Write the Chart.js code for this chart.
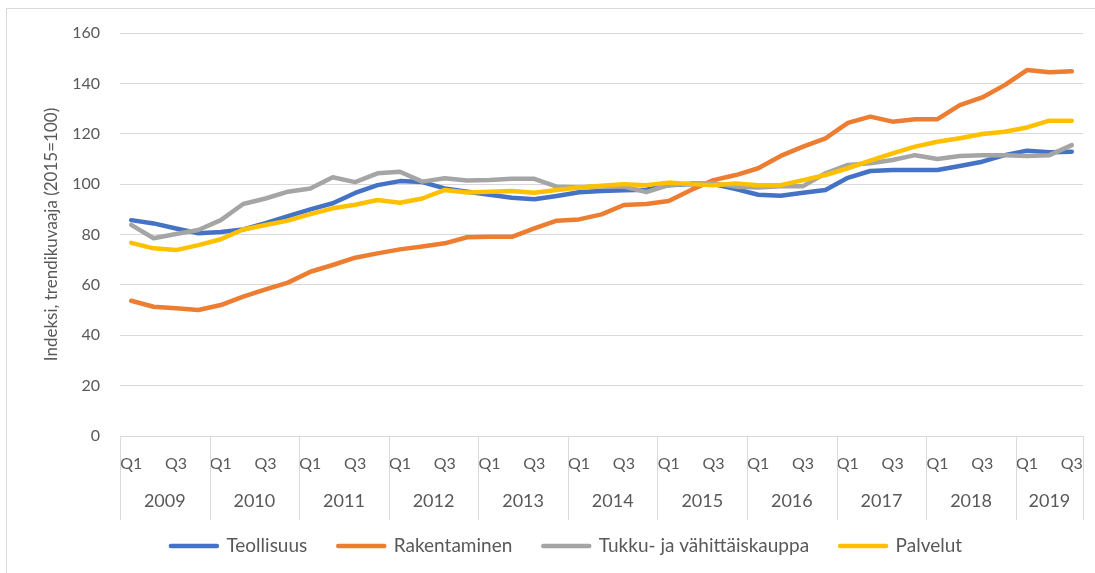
<!DOCTYPE html>
<html>
<head>
<meta charset="utf-8">
<script src="https://cdn.jsdelivr.net/npm/chart.js@4.4.1/dist/chart.umd.min.js"></script>
<style>
  html, body { margin: 0; padding: 0; background: #fff; overflow: hidden; }
  #frame { position: absolute; left: 6px; top: 8px; width: 1200px; height: 700px; border: 1px solid #d9d9d9; }
  #wrap { position: absolute; left: 0; top: 0; width: 1095px; height: 573px; }
</style>
</head>
<body>
<div id="frame"></div>
<div id="wrap"><canvas id="chart"></canvas></div>
<script>
const years = ['2009', '2010', '2011', '2012', '2013', '2014', '2015', '2016', '2017', '2018', '2019'];
const quarters = ['Q1', 'Q2', 'Q3', 'Q4'];
const quartersInLastYear = 3;

const teollisuus = [85.7, 84.4, 82.4, 80.5, 81.0, 82.0, 84.5, 87.3, 90.0, 92.4, 96.5,
    99.6, 101.2, 100.8, 98.3, 97.0, 95.8, 94.6, 94.0, 95.3, 96.8, 97.3, 97.6, 97.8,
    99.6, 100.0, 100.0, 98.0, 95.8, 95.4, 96.6, 97.7, 102.5, 105.2, 105.6, 105.6,
    105.6, 107.2, 108.9, 111.5, 113.3, 112.7, 112.9];
const rakentaminen = [53.7, 51.3, 50.7, 50.0, 52.0, 55.3, 58.2, 60.9, 65.2, 67.9, 70.8,
    72.5, 74.1, 75.2, 76.5, 78.9, 79.1, 79.1, 82.4, 85.5, 86.0, 88.0, 91.7, 92.1,
    93.3, 97.7, 101.6, 103.6, 106.3, 111.2, 114.9, 118.2, 124.3, 126.8, 124.8, 125.8,
    125.8, 131.4, 134.4, 139.3, 145.3, 144.4, 144.8];
const tukkuJaVahittais = [83.8, 78.5, 80.2, 81.8, 85.7, 92.1, 94.3, 97.0, 98.3, 102.7, 100.8,
    104.3, 104.9, 101.0, 102.3, 101.4, 101.6, 102.1, 102.1, 99.0, 98.7, 99.2, 99.0, 96.8,
    99.6, 100.3, 100.3, 99.0, 98.7, 99.2, 99.2, 104.3, 107.6, 108.3, 109.6, 111.5,
    110.0, 111.2, 111.5, 111.5, 111.2, 111.5, 115.5];
const palvelut = [76.7, 74.5, 73.8, 75.8, 78.1, 82.0, 83.8, 85.5, 88.1, 90.4, 91.8,
    93.7, 92.6, 94.3, 97.7, 96.7, 97.0, 97.3, 96.6, 97.7, 98.7, 99.4, 100.0, 99.6,
    100.6, 100.0, 99.6, 100.3, 99.6, 99.6, 101.6, 103.6, 106.3, 109.3, 112.2, 114.9,
    116.8, 118.2, 119.9, 120.8, 122.5, 125.2, 125.2];

// quarter labels and the year each quarter belongs to
const quarterLabels = [];
const quarterYears = [];
years.forEach((y, i) => {
    const n = i === years.length - 1 ? quartersInLastYear : quarters.length;
    for (let q = 0; q < n; q++) {
        quarterLabels.push(quarters[q]);
        quarterYears.push(y);
    }
});

const textColor = '#595959';
const gridColor = '#d9d9d9';
Chart.defaults.font.family = 'Lato';
Chart.defaults.font.size = 16;
Chart.defaults.color = textColor;

// second level of the category axis: year names and separators
const yearAxis = {
    id: 'yearAxis',
    afterDraw(chart) {
        const x = chart.scales.x;
        const ctx = chart.ctx;
        const half = (x.getPixelForValue(1) - x.getPixelForValue(0)) / 2;
        const top = x.top;
        ctx.save();
        ctx.strokeStyle = gridColor;
        ctx.lineWidth = 1;
        ctx.fillStyle = textColor;
        ctx.font = '18px Lato';
        ctx.textAlign = 'center';
        ctx.textBaseline = 'middle';
        const sep = (px) => {
            const p = Math.round(px) + 0.5;
            ctx.beginPath();
            ctx.moveTo(p, top);
            ctx.lineTo(p, top + 84);
            ctx.stroke();
        };
        years.forEach(year => {
            const first = quarterYears.indexOf(year);
            const last = quarterYears.lastIndexOf(year);
            sep(x.getPixelForValue(first) - half);
            const mid = (x.getPixelForValue(first) + x.getPixelForValue(last)) / 2;
            ctx.fillText(year, mid, top + 65);
        });
        sep(x.getPixelForValue(quarterLabels.length - 1) + half);
        ctx.restore();
    }
};

function series(label, data, color, order) {
    return {
        label: label,
        data: data,
        borderColor: color,
        backgroundColor: color,
        borderWidth: 4.5,
        borderJoinStyle: 'round',
        borderCapStyle: 'round',
        pointRadius: 0,
        tension: 0,
        order: order
    };
}

new Chart(document.getElementById('chart'), {
    type: 'line',
    data: {
        labels: quarterLabels,
        datasets: [
            series('Teollisuus', teollisuus, '#4472C4', 4),
            series('Rakentaminen', rakentaminen, '#ED7D31', 3),
            series('Tukku- ja vähittäiskauppa', tukkuJaVahittais, '#A5A5A5', 2),
            series('Palvelut', palvelut, '#FFC000', 1)
        ]
    },
    options: {
        responsive: true,
        maintainAspectRatio: false,
        animation: false,
        layout: { padding: { left: 50, right: 12, top: 33, bottom: 7.5 } },
        plugins: {
            legend: {
                position: 'bottom',
                labels: {
                    boxWidth: 46,
                    boxHeight: 0,
                    padding: 31,
                    color: textColor,
                    font: { size: 19 },
                    sort: (a, b) => a.datasetIndex - b.datasetIndex
                }
            },
            tooltip: { enabled: false }
        },
        scales: {
            x: {
                type: 'category',
                offset: true,
                grid: { display: false },
                border: { display: true, color: gridColor, width: 1 },
                ticks: {
                    autoSkip: false,
                    maxRotation: 0,
                    padding: 10,
                    color: textColor,
                    font: { size: 16 },
                    callback: function (value, index) {
                        return index % 2 === 0 ? quarterLabels[index] : '';
                    }
                },
                afterFit: (scale) => { scale.height = 69.5; }
            },
            y: {
                min: 0,
                max: 160,
                ticks: { stepSize: 20, padding: 20, color: textColor, font: { size: 16 } },
                grid: { color: gridColor, lineWidth: 1, drawTicks: false },
                border: { display: false },
                title: {
                    display: true,
                    text: 'Indeksi, trendikuvaaja (2015=100)',
                    color: textColor,
                    font: { size: 17 },
                    padding: { top: -9, bottom: 0 }
                },
                afterFit: (scale) => { scale.width = 70; }
            }
        }
    },
    plugins: [yearAxis]
});
</script>
</body>
</html>
